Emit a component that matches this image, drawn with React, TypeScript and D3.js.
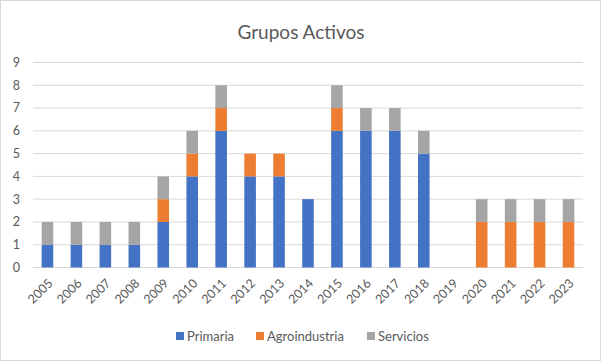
import React, { useEffect, useRef } from 'react';
import * as d3 from 'd3';

const years = ['2005', '2006', '2007', '2008', '2009', '2010', '2011', '2012', '2013', '2014',
    '2015', '2016', '2017', '2018', '2019', '2020', '2021', '2022', '2023'];
const primaria = [1, 1, 1, 1, 2, 4, 6, 4, 4, 3, 6, 6, 6, 5, 0, 0, 0, 0, 0];
const agroindustria = [0, 0, 0, 0, 1, 1, 1, 1, 1, 0, 1, 0, 0, 0, 0, 2, 2, 2, 2];
const servicios = [1, 1, 1, 1, 1, 1, 1, 0, 0, 0, 1, 1, 1, 1, 0, 1, 1, 1, 1];
const seriesNames = ['Primaria', 'Agroindustria', 'Servicios'];
const yTicks = [0, 1, 2, 3, 4, 5, 6, 7, 8, 9];

const colors = ['#4472C4', '#ED7D31', '#A5A5A5'];
const font = 'Lato, "Noto Sans", sans-serif';
const textColor = '#595959';

const App: React.FC = () => {
    const ref = useRef<HTMLDivElement>(null);

    useEffect(() => {
        if (!ref.current) return;
        const width = 602, height = 362;

        const svg = d3.select(ref.current)
            .append('svg')
            .attr('width', width)
            .attr('height', height)
            .style('position', 'absolute')
            .style('left', 0)
            .style('top', 0)
            .style('font-family', font);

        svg.append('rect')
            .attr('x', 0.5).attr('y', 0.5)
            .attr('width', width - 2).attr('height', height - 2)
            .attr('fill', 'white')
            .attr('stroke', '#D9D9D9');

        svg.append('text')
            .attr('x', 301).attr('y', 39)
            .attr('text-anchor', 'middle')
            .attr('font-size', 19)
            .attr('fill', textColor)
            .text('Grupos Activos');

        const x = d3.scaleBand()
            .domain(years)
            .range([33, 583])
            .paddingInner(0.6)
            .paddingOuter(0.3);

        const y = d3.scaleLinear().domain([0, 9]).range([267.5, 62.5]);

        // gridlines
        svg.append('g')
            .selectAll('line')
            .data(yTicks)
            .enter()
            .append('line')
            .attr('x1', 33).attr('x2', 583)
            .attr('y1', (d) => y(d)).attr('y2', (d) => y(d))
            .attr('stroke', '#D9D9D9')
            .attr('stroke-width', 1);

        svg.append('g')
            .selectAll('text')
            .data(yTicks)
            .enter()
            .append('text')
            .attr('x', 20)
            .attr('y', (d) => y(d))
            .attr('dy', '0.35em')
            .attr('text-anchor', 'end')
            .attr('font-size', 12.5)
            .attr('fill', textColor)
            .text((d) => d);

        const table = years.map((yr, i) => ({
            year: yr,
            Primaria: primaria[i],
            Agroindustria: agroindustria[i],
            Servicios: servicios[i]
        }));
        const stacked = d3.stack<any>().keys(seriesNames)(table);

        svg.append('g')
            .selectAll('g')
            .data(stacked)
            .enter()
            .append('g')
            .attr('fill', (_d, i) => colors[i])
            .selectAll('rect')
            .data((d) => d.filter((p) => p[1] - p[0] > 0))
            .enter()
            .append('rect')
            .attr('x', (d: any) => x(d.data.year) as number)
            .attr('width', x.bandwidth())
            .attr('y', (d) => y(d[1]))
            .attr('height', (d) => y(d[0]) - y(d[1]));

        // x labels
        svg.append('g')
            .selectAll('text')
            .data(years)
            .enter()
            .append('text')
            .attr('transform', (d) => `translate(${(x(d) as number) + x.bandwidth() / 2 + 3}, 281) rotate(-45)`)
            .attr('text-anchor', 'end')
            .attr('dy', '0.35em')
            .attr('font-size', 12.5)
            .attr('fill', textColor)
            .text((d) => d);

        // legend
        const legendPos = [176, 256, 367];
        const legend = svg.append('g')
            .selectAll('g')
            .data(seriesNames)
            .enter()
            .append('g')
            .attr('transform', (_d, i) => `translate(${legendPos[i]}, 332)`);
        legend.append('rect')
            .attr('width', 8).attr('height', 8)
            .attr('fill', (_d, i) => colors[i]);
        legend.append('text')
            .attr('x', 11).attr('y', 4)
            .attr('dy', '0.35em')
            .attr('font-size', 13)
            .attr('fill', textColor)
            .text((d) => d);

        return () => {
            svg.remove();
        };
    }, []);

    return <div ref={ref}></div>;
};

export default App;
